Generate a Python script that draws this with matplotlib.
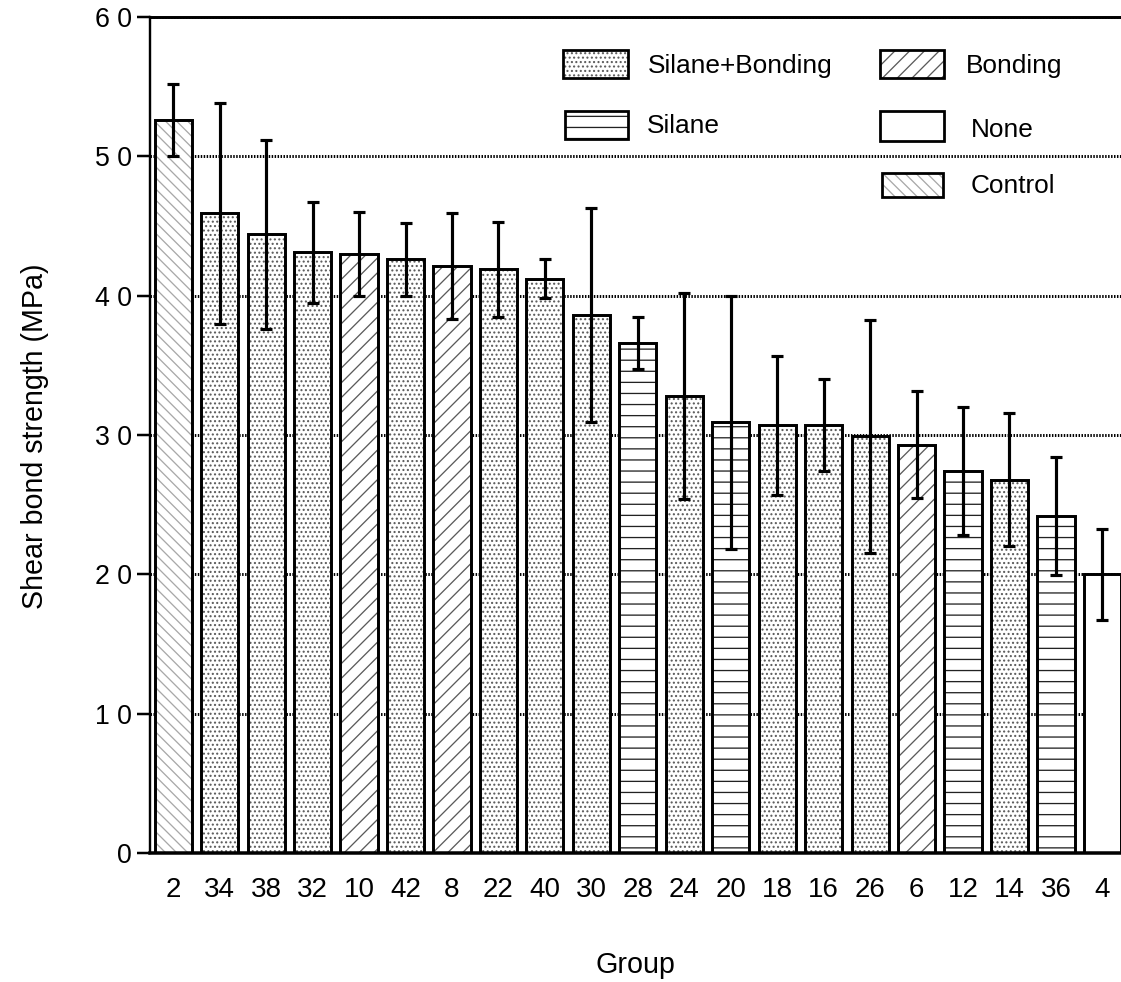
import numpy as np
import matplotlib
matplotlib.use('Agg')
import matplotlib.pyplot as plt
from matplotlib.patches import Rectangle

# bars, left to right
groups = ['2', '34', '38', '32', '10', '42', '8', '22', '40', '30', '28',
          '24', '20', '18', '16', '26', '6', '12', '14', '36', '4']
strength = [52.6, 45.9, 44.4, 43.1, 43.0, 42.6, 42.1, 41.9, 41.2, 38.6, 36.6,
            32.8, 30.9, 30.7, 30.7, 29.9, 29.3, 27.4, 26.8, 24.2, 20.0]
sd = [2.6, 7.9, 6.8, 3.6, 3.0, 2.6, 3.8, 3.4, 1.4, 7.7, 1.85,
      7.4, 9.1, 5.0, 3.3, 8.35, 3.85, 4.6, 4.75, 4.25, 3.25]
treatment = ['Control', 'Silane+Bonding', 'Silane+Bonding', 'Silane+Bonding', 'Bonding',
             'Silane+Bonding', 'Bonding', 'Silane+Bonding', 'Silane+Bonding', 'Silane+Bonding',
             'Silane', 'Silane+Bonding', 'Silane', 'Silane+Bonding', 'Silane+Bonding',
             'Silane+Bonding', 'Bonding', 'Silane', 'Silane+Bonding', 'Silane', 'None']
yticks = [0, 10, 20, 30, 40, 50, 60]
ytick_labels = ['0', '1 0', '2 0', '3 0', '4 0', '5 0', '6 0']

# fill style per treatment: (hatch, hatch colour)
styles = {
    'Silane+Bonding': ('.....', '#5a5a5a'),
    'Bonding': ('///', '#5a5a5a'),
    'Silane': ('--', '#222222'),
    'None': ('', 'white'),
    'Control': ('\\\\\\\\', '#a8a8a8'),
}

W, H, DPI = 1121, 982, 133
plt.rcParams['font.family'] = ['Liberation Sans', 'DejaVu Sans']
plt.rcParams['hatch.linewidth'] = 0.7

fig = plt.figure(figsize=(W / DPI, H / DPI), dpi=DPI)
ax = fig.add_axes([150 / W, 129 / H, 971 / W, 836 / H])

def px(x, y):
    # pixel (from top-left) -> figure fraction
    return x / W, 1 - y / H

x = np.arange(len(groups))
for xi, val, t in zip(x, strength, treatment):
    h, c = styles[t]
    ax.bar(xi, val, width=0.8, facecolor='white', edgecolor=c, linewidth=0,
           hatch=h, zorder=2)
ax.bar(x, strength, width=0.8, fill=False, edgecolor='black', linewidth=1.6, zorder=2.5)
ax.errorbar(x, strength, yerr=sd, fmt='none', ecolor='black', elinewidth=1.7,
            capsize=3, capthick=1.7, zorder=3)

ax.set_xlim(-0.5, 20.4)
ax.set_ylim(0, 60)
ax.set_yticks(yticks)
ax.set_yticklabels(ytick_labels, fontsize=14.5)
ax.set_xticks(x)
ax.set_xticklabels(groups, fontsize=15)
ax.tick_params(axis='x', length=0, pad=13)
ax.tick_params(axis='y', length=7, width=1.35, pad=3, direction='out')

ax.set_axisbelow(True)
ax.yaxis.grid(True, color='black', linestyle=(0, (0.5, 0.5)), linewidth=1.6)
ax.spines['right'].set_visible(False)
ax.spines['top'].set_linewidth(1.6)
ax.spines['left'].set_linewidth(1.3)
ax.spines['bottom'].set_linewidth(1.9)

fig.text(*px(35, 436), 'Shear bond strength (MPa)', rotation=90,
         ha='center', va='center', fontsize=15.5)
fig.text(*px(635, 965), 'Group', ha='center', va='center', fontsize=15.5)

# legend: (label, box left, box top, box right, box bottom, text x, text baseline)
legend_items = [
    ('Silane+Bonding', 563, 50, 628, 78, 648, 73),
    ('Silane', 565, 111, 628, 139, 647, 133),
    ('Bonding', 880, 50, 944, 78, 966, 73),
    ('None', 880, 111, 944, 141, 971, 137),
    ('Control', 882, 173, 943, 197, 971, 193),
]
for lab, x0, y0, x1, y1, tx, ty in legend_items:
    h, c = styles[lab]
    fx0, fy1 = px(x0, y1)
    fw, fh = (x1 - x0) / W, (y1 - y0) / H
    fig.add_artist(Rectangle((fx0, fy1), fw, fh, transform=fig.transFigure,
                             facecolor='white', edgecolor=c, linewidth=0, hatch=h))
    fig.add_artist(Rectangle((fx0, fy1), fw, fh, transform=fig.transFigure,
                             fill=False, edgecolor='black', linewidth=1.5))
    fig.text(*px(tx, ty), lab, ha='left', va='baseline', fontsize=14.2)

fig.savefig('out.png', dpi=DPI)
